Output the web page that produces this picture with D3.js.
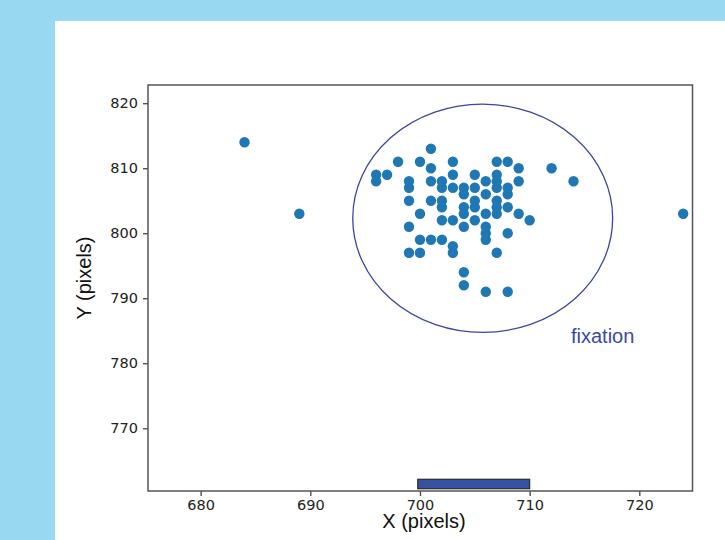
<!DOCTYPE html>
<html>
<head>
<meta charset="utf-8">
<script src="https://cdn.jsdelivr.net/npm/d3@7/dist/d3.min.js"></script>
<style>
  html, body { margin: 0; padding: 0; background: #98d8f1; }
  svg { display: block; }
</style>
</head>
<body>
<svg id="chart" width="725" height="540"></svg>
<script>
// ---- data (gaze samples, pixel coordinates) ----
const gazeX = [684, 689, 724,
  701,
  698, 700, 703, 707, 708,
  701, 709, 712,
  696, 697, 703, 705, 707,
  696, 699, 701, 702, 706, 707, 709, 714,
  699, 702, 703, 704, 705, 707, 708,
  704, 706, 708,
  699, 701, 702, 705, 707,
  702, 704, 705, 707, 708,
  700, 704, 706, 707, 709,
  702, 703, 705, 710,
  699, 704, 706,
  706, 708,
  700, 701, 702, 706,
  703,
  699, 700, 703, 707,
  704, 704, 706, 708];
const gazeY = [814, 803, 803,
  813,
  811, 811, 811, 811, 811,
  810, 810, 810,
  809, 809, 809, 809, 809,
  808, 808, 808, 808, 808, 808, 808, 808,
  807, 807, 807, 807, 807, 807, 807,
  806, 806, 806,
  805, 805, 805, 805, 805,
  804, 804, 804, 804, 804,
  803, 803, 803, 803, 803,
  802, 802, 802, 802,
  801, 801, 801,
  800, 800,
  799, 799, 799, 799,
  798,
  797, 797, 797, 797,
  794, 792, 791, 791];

// fixation ellipse: centre and full width/height in data units
const fixCenter = [705.72, 802.3];
const fixSize = [23.7, 35.1];
const fixLabel = "fixation";

// fixation duration bar (x extent, y extent)
const barX = [699.8, 710];
const barY = [760.7, 762.15];

const xTicks = [680, 690, 700, 710, 720];
const yTicks = [770, 780, 790, 800, 810, 820];
const xDomain = [675.2, 724.85];
const yDomain = [760.35, 822.8];
const xTitle = "X (pixels)";
const yTitle = "Y (pixels)";

// ---- drawing ----
const svg = d3.select("#chart");
// white slide panel
svg.append("rect").attr("x", 55).attr("y", 21).attr("width", 725 - 55).attr("height", 540 - 21).attr("fill", "#ffffff");

const L = 148, R = 692.5, T = 85, B = 491;
const x = d3.scaleLinear().domain(xDomain).range([L, R]);
const y = d3.scaleLinear().domain(yDomain).range([B, T]);

const g = svg.append("g");

// bar
g.append("rect")
  .attr("x", x(barX[0])).attr("y", y(barY[1]))
  .attr("width", x(barX[1]) - x(barX[0]))
  .attr("height", y(barY[0]) - y(barY[1]))
  .attr("fill", "#3652a3").attr("stroke", "#2a2a2a").attr("stroke-width", 1.2);

// ellipse
g.append("ellipse")
  .attr("cx", x(fixCenter[0])).attr("cy", y(fixCenter[1]))
  .attr("rx", x(fixCenter[0] + fixSize[0] / 2) - x(fixCenter[0]))
  .attr("ry", y(fixCenter[1]) - y(fixCenter[1] + fixSize[1] / 2))
  .attr("fill", "none").attr("stroke", "#3b45a0").attr("stroke-width", 1.3);

// points
g.selectAll("circle.pt").data(gazeX.map((d, i) => [d, gazeY[i]]))
  .enter().append("circle").attr("class", "pt")
  .attr("cx", d => x(d[0])).attr("cy", d => y(d[1]))
  .attr("r", 5.2).attr("fill", "#1f77b4");

// axes
const xAxis = g.append("g").attr("transform", `translate(0,${B})`)
  .call(d3.axisBottom(x).tickValues(xTicks).tickSize(5).tickPadding(4).tickSizeOuter(0));
const yAxis = g.append("g").attr("transform", `translate(${L},0)`)
  .call(d3.axisLeft(y).tickValues(yTicks).tickSize(5).tickPadding(5).tickSizeOuter(0));
[xAxis, yAxis].forEach(a => {
  a.select(".domain").remove();
  a.selectAll(".tick line").attr("stroke", "#444").attr("stroke-width", 1.3);
  a.selectAll(".tick text").attr("fill", "#222")
    .style("font-family", "DejaVu Sans").style("font-size", "14.5px");
});

// frame
g.append("rect").attr("x", L).attr("y", T).attr("width", R - L).attr("height", B - T)
  .attr("fill", "none").attr("stroke", "#555").attr("stroke-width", 1.5);

// labels
svg.append("text").attr("x", 424).attr("y", 528).attr("text-anchor", "middle")
  .style("font-family", "Liberation Sans, Arial, sans-serif").style("font-size", "20px")
  .attr("fill", "#111").text(xTitle);
svg.append("text").attr("transform", "translate(91,278) rotate(-90)").attr("text-anchor", "middle")
  .style("font-family", "Liberation Sans, Arial, sans-serif").style("font-size", "20px")
  .attr("fill", "#111").text(yTitle);
svg.append("text").attr("x", 571).attr("y", 343)
  .style("font-family", "Liberation Sans, Arial, sans-serif").style("font-size", "20px")
  .attr("fill", "#3a48a6").text(fixLabel);
</script>
</body>
</html>
